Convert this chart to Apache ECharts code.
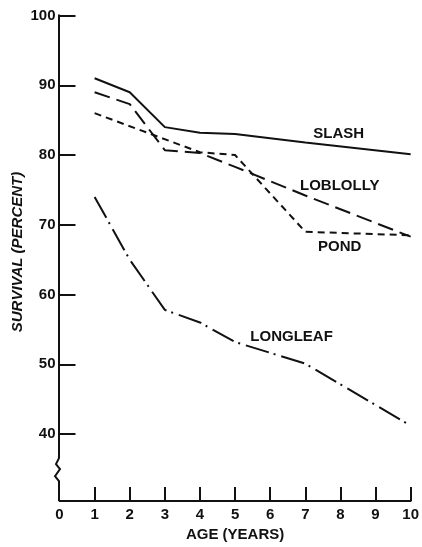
<!DOCTYPE html>
<html><head><meta charset="utf-8">
<script src="https://cdn.jsdelivr.net/npm/echarts@6/dist/echarts.min.js"></script>
<style>html,body{margin:0;padding:0;background:#fff}#c{width:422px;height:547px}</style>
</head><body><div id="c"></div>
<script>
// Data (age in years, survival in percent)
const slashAge = [1, 2, 3, 4, 5, 7, 10];
const slashVal = [91, 89, 84, 83.2, 83, 81.8, 80.1];
const loblollyAge = [1, 2, 3, 4, 5, 7, 10];
const loblollyVal = [89, 87.3, 80.7, 80.3, 78.3, 74.2, 68.3];
const pondAge = [1, 4, 5, 7, 10];
const pondVal = [86, 80.4, 80, 69, 68.5];
const longleafAge = [1, 2, 3, 4, 5, 7, 10];
const longleafVal = [74, 65, 57.8, 56, 53.2, 50.1, 41.2];
const xTicks = [1, 2, 3, 4, 5, 6, 7, 8, 9, 10];
const xLabels = [0, 1, 2, 3, 4, 5, 6, 7, 8, 9, 10];
const yTicks = [40, 50, 60, 70, 80, 90, 100];
const seriesNames = ['SLASH', 'LOBLOLLY', 'POND', 'LONGLEAF'];

const INK = '#111';
const FONT = '"Liberation Sans", Arial, sans-serif';
const pairs = (a, b) => a.map((x, i) => [x, b[i]]);

function tagSeries(name, coord) {
  return {
    type: 'scatter', data: [], silent: true,
    markPoint: {
      symbol: 'circle', symbolSize: 0, silent: true,
      data: [{ coord: coord, name: name }],
      label: { show: true, position: 'inside', formatter: name, color: INK, fontSize: 15, fontWeight: 'bold', fontFamily: FONT }
    }
  };
}

const chart = echarts.init(document.getElementById('c'), null, { renderer: 'canvas' });
const option = {
  animation: false,
  backgroundColor: '#fff',
  grid: { left: 59.5, right: 11.2, top: 15.5, bottom: 43 },
  xAxis: {
    type: 'value', min: 0, max: 10, interval: 1,
    name: 'AGE (YEARS)', nameLocation: 'middle', nameGap: 24,
    nameTextStyle: { color: INK, fontSize: 15, fontWeight: 'bold', fontFamily: FONT },
    axisLine: { show: true, lineStyle: { color: INK, width: 2 } },
    axisTick: { show: true, inside: true, length: 14, customValues: xTicks, lineStyle: { color: INK, width: 2 } },
    axisLabel: { customValues: xLabels, color: INK, fontSize: 15, fontWeight: 'bold', fontFamily: FONT, margin: 6 },
    splitLine: { show: false }
  },
  yAxis: {
    type: 'value', min: 30.4, max: 100,
    axisLine: { show: false },
    axisTick: { show: true, inside: true, length: 16, customValues: yTicks, lineStyle: { color: INK, width: 2 } },
    axisLabel: { customValues: yTicks, color: INK, fontSize: 15, fontWeight: 'bold', fontFamily: FONT, margin: 4 },
    splitLine: { show: false }
  },
  series: [
    { name: seriesNames[0], type: 'line', data: pairs(slashAge, slashVal), symbol: 'none',
      lineStyle: { color: INK, width: 2, type: 'solid' } },
    { name: seriesNames[1], type: 'line', data: pairs(loblollyAge, loblollyVal), symbol: 'none',
      lineStyle: { color: INK, width: 2, type: [16, 7] } },
    { name: seriesNames[2], type: 'line', data: pairs(pondAge, pondVal), symbol: 'none',
      lineStyle: { color: INK, width: 2, type: [7, 5] } },
    { name: seriesNames[3], type: 'line', data: pairs(longleafAge, longleafVal), symbol: 'none',
      lineStyle: { color: INK, width: 2, type: [24, 5, 2, 6] } },
    tagSeries(seriesNames[0], [7.95, 83.0]),
    tagSeries(seriesNames[1], [7.98, 75.6]),
    tagSeries(seriesNames[2], [7.98, 66.9]),
    tagSeries(seriesNames[3], [6.61, 54.0])
  ]
};
chart.setOption(option);

// y-axis line with the symbolic break, positioned through the axis scale
const pTop = chart.convertToPixel({ gridIndex: 0 }, [0, 100]);
const pBot = chart.convertToPixel({ gridIndex: 0 }, [0, 30.4]);
const ax = pTop[0] - 0.5;
const b0 = pBot[1] - 43;
chart.setOption({
  graphic: [
    { type: 'polyline', silent: true, z: 100,
      shape: { points: [[ax, pTop[1] - 1], [ax, b0], [ax - 3, b0 + 6], [ax + 1, b0 + 11], [ax - 4, b0 + 18], [ax, b0 + 23], [ax, pBot[1]]] },
      style: { stroke: INK, lineWidth: 2, fill: null } },
    { type: 'text', silent: true, x: 18, y: 252, rotation: Math.PI / 2,
      style: { text: 'SURVIVAL (PERCENT)', fill: INK, font: 'italic bold 15px ' + FONT, align: 'center', verticalAlign: 'middle' } }
  ]
});
</script></body></html>
